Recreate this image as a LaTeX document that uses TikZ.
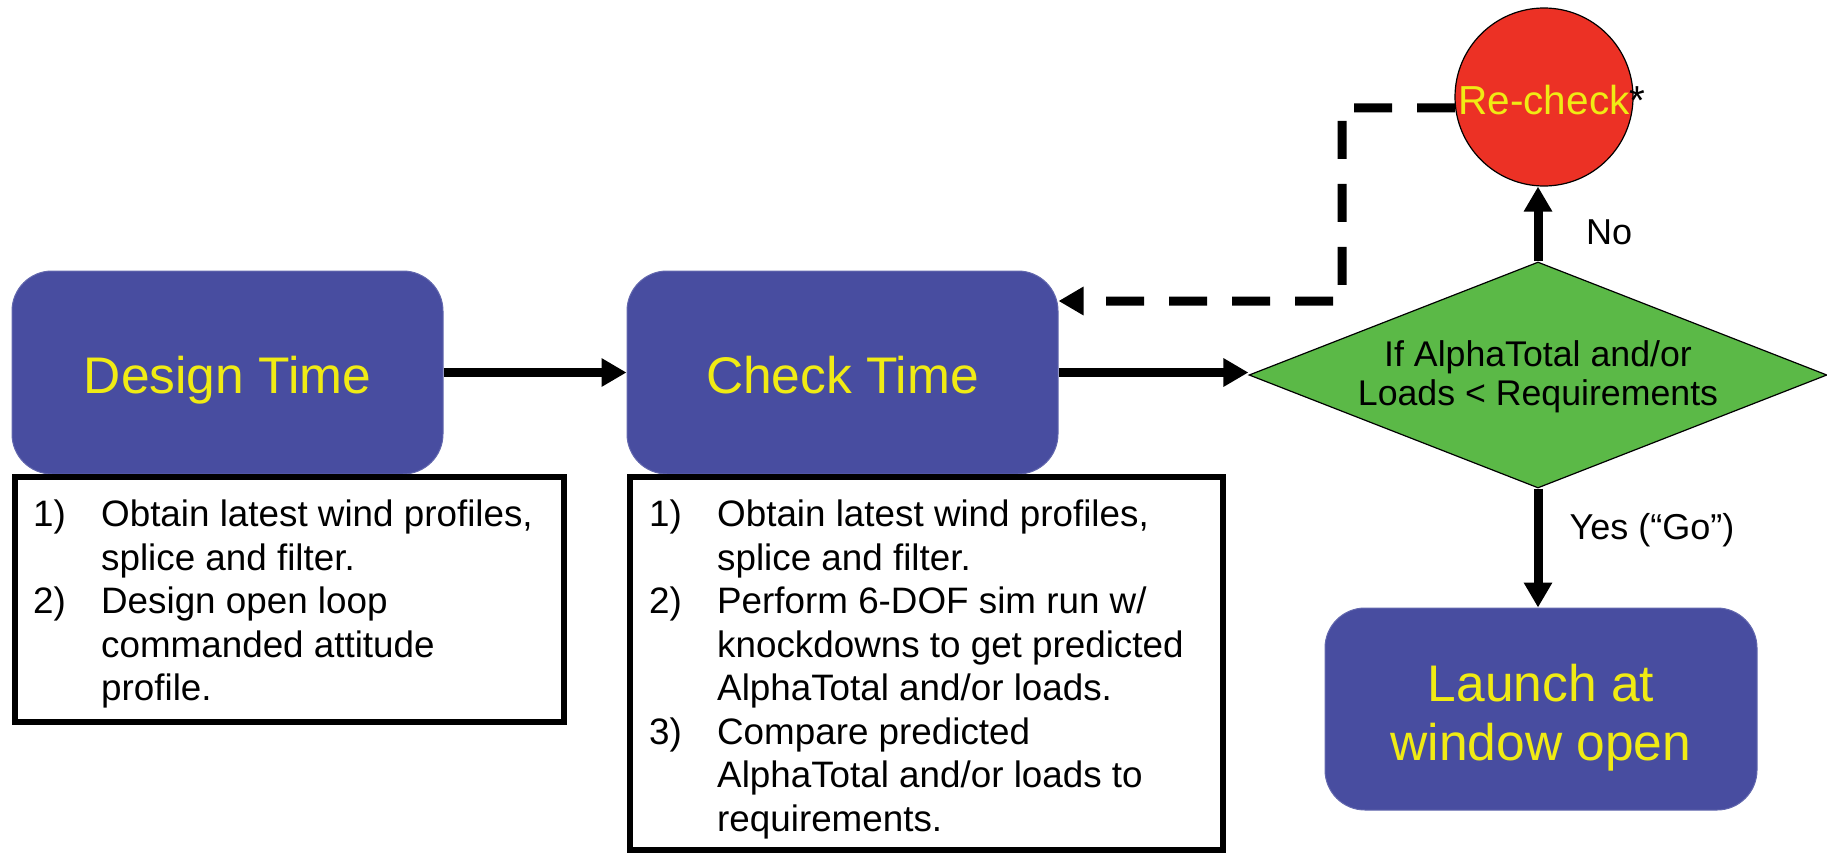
\documentclass[tikz,border=0pt]{standalone}
\usepackage{fontspec}
\setmainfont{Liberation Sans}
\usetikzlibrary{arrows.meta,shapes.geometric}
\definecolor{boxblue}{RGB}{72,77,160}
\definecolor{txtyellow}{RGB}{240,235,20}
\definecolor{dgreen}{RGB}{91,185,71}
\definecolor{rred}{RGB}{236,49,37}
\newcommand{\itm}[1]{\makebox[68pt][l]{#1}}
\begin{document}
\begin{tikzpicture}[x=1pt,y=-1pt,
 bluebox/.style={fill=boxblue, draw=boxblue!85!white, line width=1pt, rounded corners=40pt, minimum width=431pt, minimum height=203pt, inner sep=0pt, text=txtyellow, font=\fontsize{51.5}{59}\selectfont, align=center},
 listframe/.style={draw=black, line width=6pt, inner sep=0pt},
 listtext/.style={font=\fontsize{36.8}{43.5}\selectfont, align=left, inner sep=0pt, anchor=north west},
 arr/.style={line width=9pt, -{Triangle[width=27pt,length=25pt]}},
 dasharr/.style={arr, dash pattern=on 38pt off 25pt},
 lbl/.style={font=\fontsize{36}{43}\selectfont, inner sep=0pt}
]
\useasboundingbox (0,0) rectangle (1827,854);

\node[bluebox, text height=41pt, text depth=0pt] (dt) at (227.5,372.5) {Design Time};
\node[bluebox, text height=41pt, text depth=0pt] (ct) at (842.5,372.5) {Check Time};
\node[bluebox, minimum width=432pt, minimum height=202pt, text height=103pt, text depth=0pt] (lw) at (1541,709) {Launch at\\window open};

\node[listframe, minimum width=549pt, minimum height=245pt] (dl) at (289.5,599.5) {};
\node[listframe, minimum width=593pt, minimum height=373pt] (cl) at (926.5,663.5) {};

\node[listtext] (dlt) at (33,500) {\itm{1)}Obtain latest wind profiles,\\\itm{}splice and filter.\\\itm{2)}Design open loop\\\itm{}commanded attitude\\\itm{}profile.};
\node[listtext] (clt) at (649,500) {\itm{1)}Obtain latest wind profiles,\\\itm{}splice and filter.\\\itm{2)}Perform 6-DOF sim run w/\\\itm{}knockdowns to get predicted\\\itm{}AlphaTotal and/or loads.\\\itm{3)}Compare predicted\\\itm{}AlphaTotal and/or loads to\\\itm{}requirements.};

\node[draw=black, line width=1.2pt, fill=dgreen, shape=diamond, aspect=2.56, minimum width=578pt, minimum height=226pt, inner sep=0pt, align=center, font=\fontsize{35.7}{39}\selectfont, text depth=3pt] (dm) at (1538,375) {If AlphaTotal and/or\\Loads < Requirements};

\node[circle, draw=black, line width=1.2pt, fill=rred, minimum size=178pt, inner sep=0pt, text=txtyellow, font=\fontsize{40.5}{48}\selectfont, text height=34pt, text depth=0pt] (rc) at (1544,97) {Re-check\rlap{\textcolor{black}{*}}};

\draw[arr] (dt.east) -- (ct.west);
\draw[arr] (ct.east) -- (ct.east -| dm.west);
\draw[arr] (dm.north) -- (dm.north |- rc.south);
\draw[arr] (dm.south) -- (dm.south |- lw.north);

\node[lbl] (no) at (1609,232) {No};
\node[lbl] (yes) at (1652,530) {Yes (“Go”)};

\coordinate (d1) at (1342,108);
\coordinate (d2) at (1342,301);
\draw[dasharr] (rc.187) -- (d1) -- (d2) -- (ct.east |- d2);
\end{tikzpicture}
\end{document}
